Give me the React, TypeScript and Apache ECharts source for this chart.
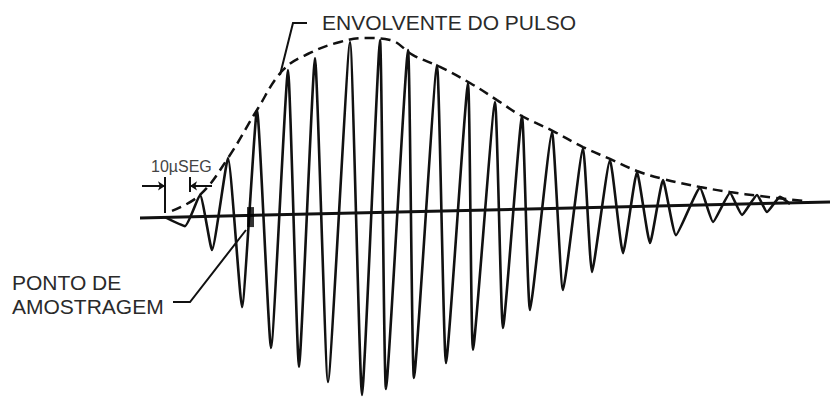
import React, { useEffect, useRef } from "react";
import * as echarts from "echarts";

// Time axis in microseconds (10 µs between the two dimension ticks), amplitude in arbitrary units
const waveT = [0, 8, 14, 18.8, 25.2, 30.8, 36.8, 42.4, 49.2, 53.6, 60, 65.2, 74, 78.8, 86, 88.4, 97.2, 99.6, 108.8, 112.4, 121.2, 123.2, 132, 135.2, 142.8, 146, 154.8, 159.2, 167.2, 170.8, 178, 183.2, 188.8, 194, 199.2, 204.4, 214, 219.2, 226, 230.8, 236.8, 240.8, 246, 250];
const waveA = [-0.6, -5.6, 11.7, -18.9, 32.2, -50.6, 58.9, -73.3, 81.1, -83.9, 87.8, -92.2, 96.7, -99.4, 97.8, -96.1, 92.2, -90, 83.9, -81.7, 73.9, -74.4, 63.3, -62.2, 55.6, -52.2, 46.7, -41.1, 37.8, -31.1, 31.1, -20.6, 24.4, -15, 20, -10.6, 15.6, -3.3, 12.8, 0.6, 11.7, 2.2, 10.6, 6.7];

const envT = [2.8, 14, 25.2, 36.8, 47.2, 58, 70, 80, 90, 99.2, 110, 122, 132.8, 142, 155.2, 167.2, 178, 188.8, 199.2, 214, 226, 238, 256];
const envA = [2.8, 11.7, 32.2, 58.9, 81.1, 90.6, 96.7, 98.9, 97.8, 89.4, 82.8, 73.9, 64.4, 56.1, 47.2, 38.3, 31.7, 25, 20.6, 16.1, 13.3, 11.1, 8.3];

const baseT = [-10, 266];
const baseA = [-1.1, 7.8];

const sampleT = [34.2];
const sampleA = [-0.6];

// 10 µs dimension marker
const dimTickT = [0, 10];
const dimTickTop = [21.7, 21.7];
const dimTickBottom = [1.7, 13.3];
const dimArrowLevel = 16.7;
const dimArrowTail = [-9.2, 18.8];

const titleEnvelope = "ENVOLVENTE DO PULSO";
const titleSample = ["PONTO DE", "AMOSTRAGEM"];
const titleDim = "10µSEG";

const FONT = "'Liberation Sans', Arial, Helvetica, sans-serif";

export default function App() {
  const ref = useRef<HTMLDivElement>(null);
  useEffect(() => {
    if (!ref.current) return;
    const chart = echarts.init(ref.current, null, { renderer: "svg" });
    const wave = waveT.map((t, i) => [t, waveA[i]]);
    const env = envT.map((t, i) => [t, envA[i]]);
    const base = baseT.map((t, i) => [t, baseA[i]]);
    const sample = sampleT.map((t, i) => [t, sampleA[i]]);
    const dimLines: any[] = [];
    dimTickT.forEach((t, i) => {
      dimLines.push([
        { coord: [t, dimTickTop[i]], symbol: "none" },
        { coord: [t, dimTickBottom[i]], symbol: "none" },
      ]);
      dimLines.push([
        { coord: [dimArrowTail[i], dimArrowLevel], symbol: "none" },
        { coord: [t, dimArrowLevel], symbol: "arrow" },
      ]);
    });
    chart.setOption({
      animation: false,
      backgroundColor: "#ffffff",
      grid: { left: 140, right: 1, top: 36, bottom: 1 },
      xAxis: { type: "value", min: -10, max: 266, show: false },
      yAxis: { type: "value", min: -100, max: 100, show: false },
      series: [
        {
          type: "line",
          data: base,
          symbol: "none",
          clip: false,
          lineStyle: { color: "#111", width: 3 },
          z: 2,
        },
        {
          type: "line",
          data: env,
          symbol: "none",
          smooth: 0.4,
          clip: false,
          lineStyle: { color: "#111", width: 2.5, type: [10, 6] },
          z: 3,
        },
        {
          type: "line",
          data: wave,
          symbol: "none",
          smooth: 0.15,
          clip: false,
          lineStyle: { color: "#111", width: 2.6 },
          z: 4,
        },
        {
          type: "scatter",
          data: sample,
          symbol: "rect",
          symbolSize: [7, 20],
          itemStyle: { color: "#000" },
          z: 5,
        },
        {
          type: "line",
          data: [],
          markLine: {
            silent: true,
            symbolSize: 7,
            label: { show: false },
            lineStyle: { color: "#111", width: 2, type: "solid" },
            data: dimLines,
          },
        },
      ],
      graphic: [
        {
          type: "text",
          left: 322,
          top: 12,
          style: { text: titleEnvelope, font: `21px ${FONT}`, fill: "#2a2a2a" },
        },
        {
          type: "polyline",
          shape: { points: [[307, 23], [293, 23], [280, 75]] },
          style: { stroke: "#111", lineWidth: 2, fill: "none" },
        },
        {
          type: "text",
          left: 12,
          top: 270,
          style: { text: titleSample.join("\n"), font: `21px ${FONT}`, fill: "#2a2a2a", lineHeight: 24 },
        },
        {
          type: "polyline",
          shape: { points: [[173, 302], [190, 302], [246, 230]] },
          style: { stroke: "#111", lineWidth: 2, fill: "none" },
        },
        {
          type: "text",
          left: 151,
          top: 158,
          style: { text: titleDim, font: `16px ${FONT}`, fill: "#444" },
        },
      ],
    });
    return () => chart.dispose();
  }, []);
  return (
    <div
      ref={ref}
      style={{ position: "absolute", left: 0, top: 0, width: 831, height: 397, background: "#fff" }}
    />
  );
}
